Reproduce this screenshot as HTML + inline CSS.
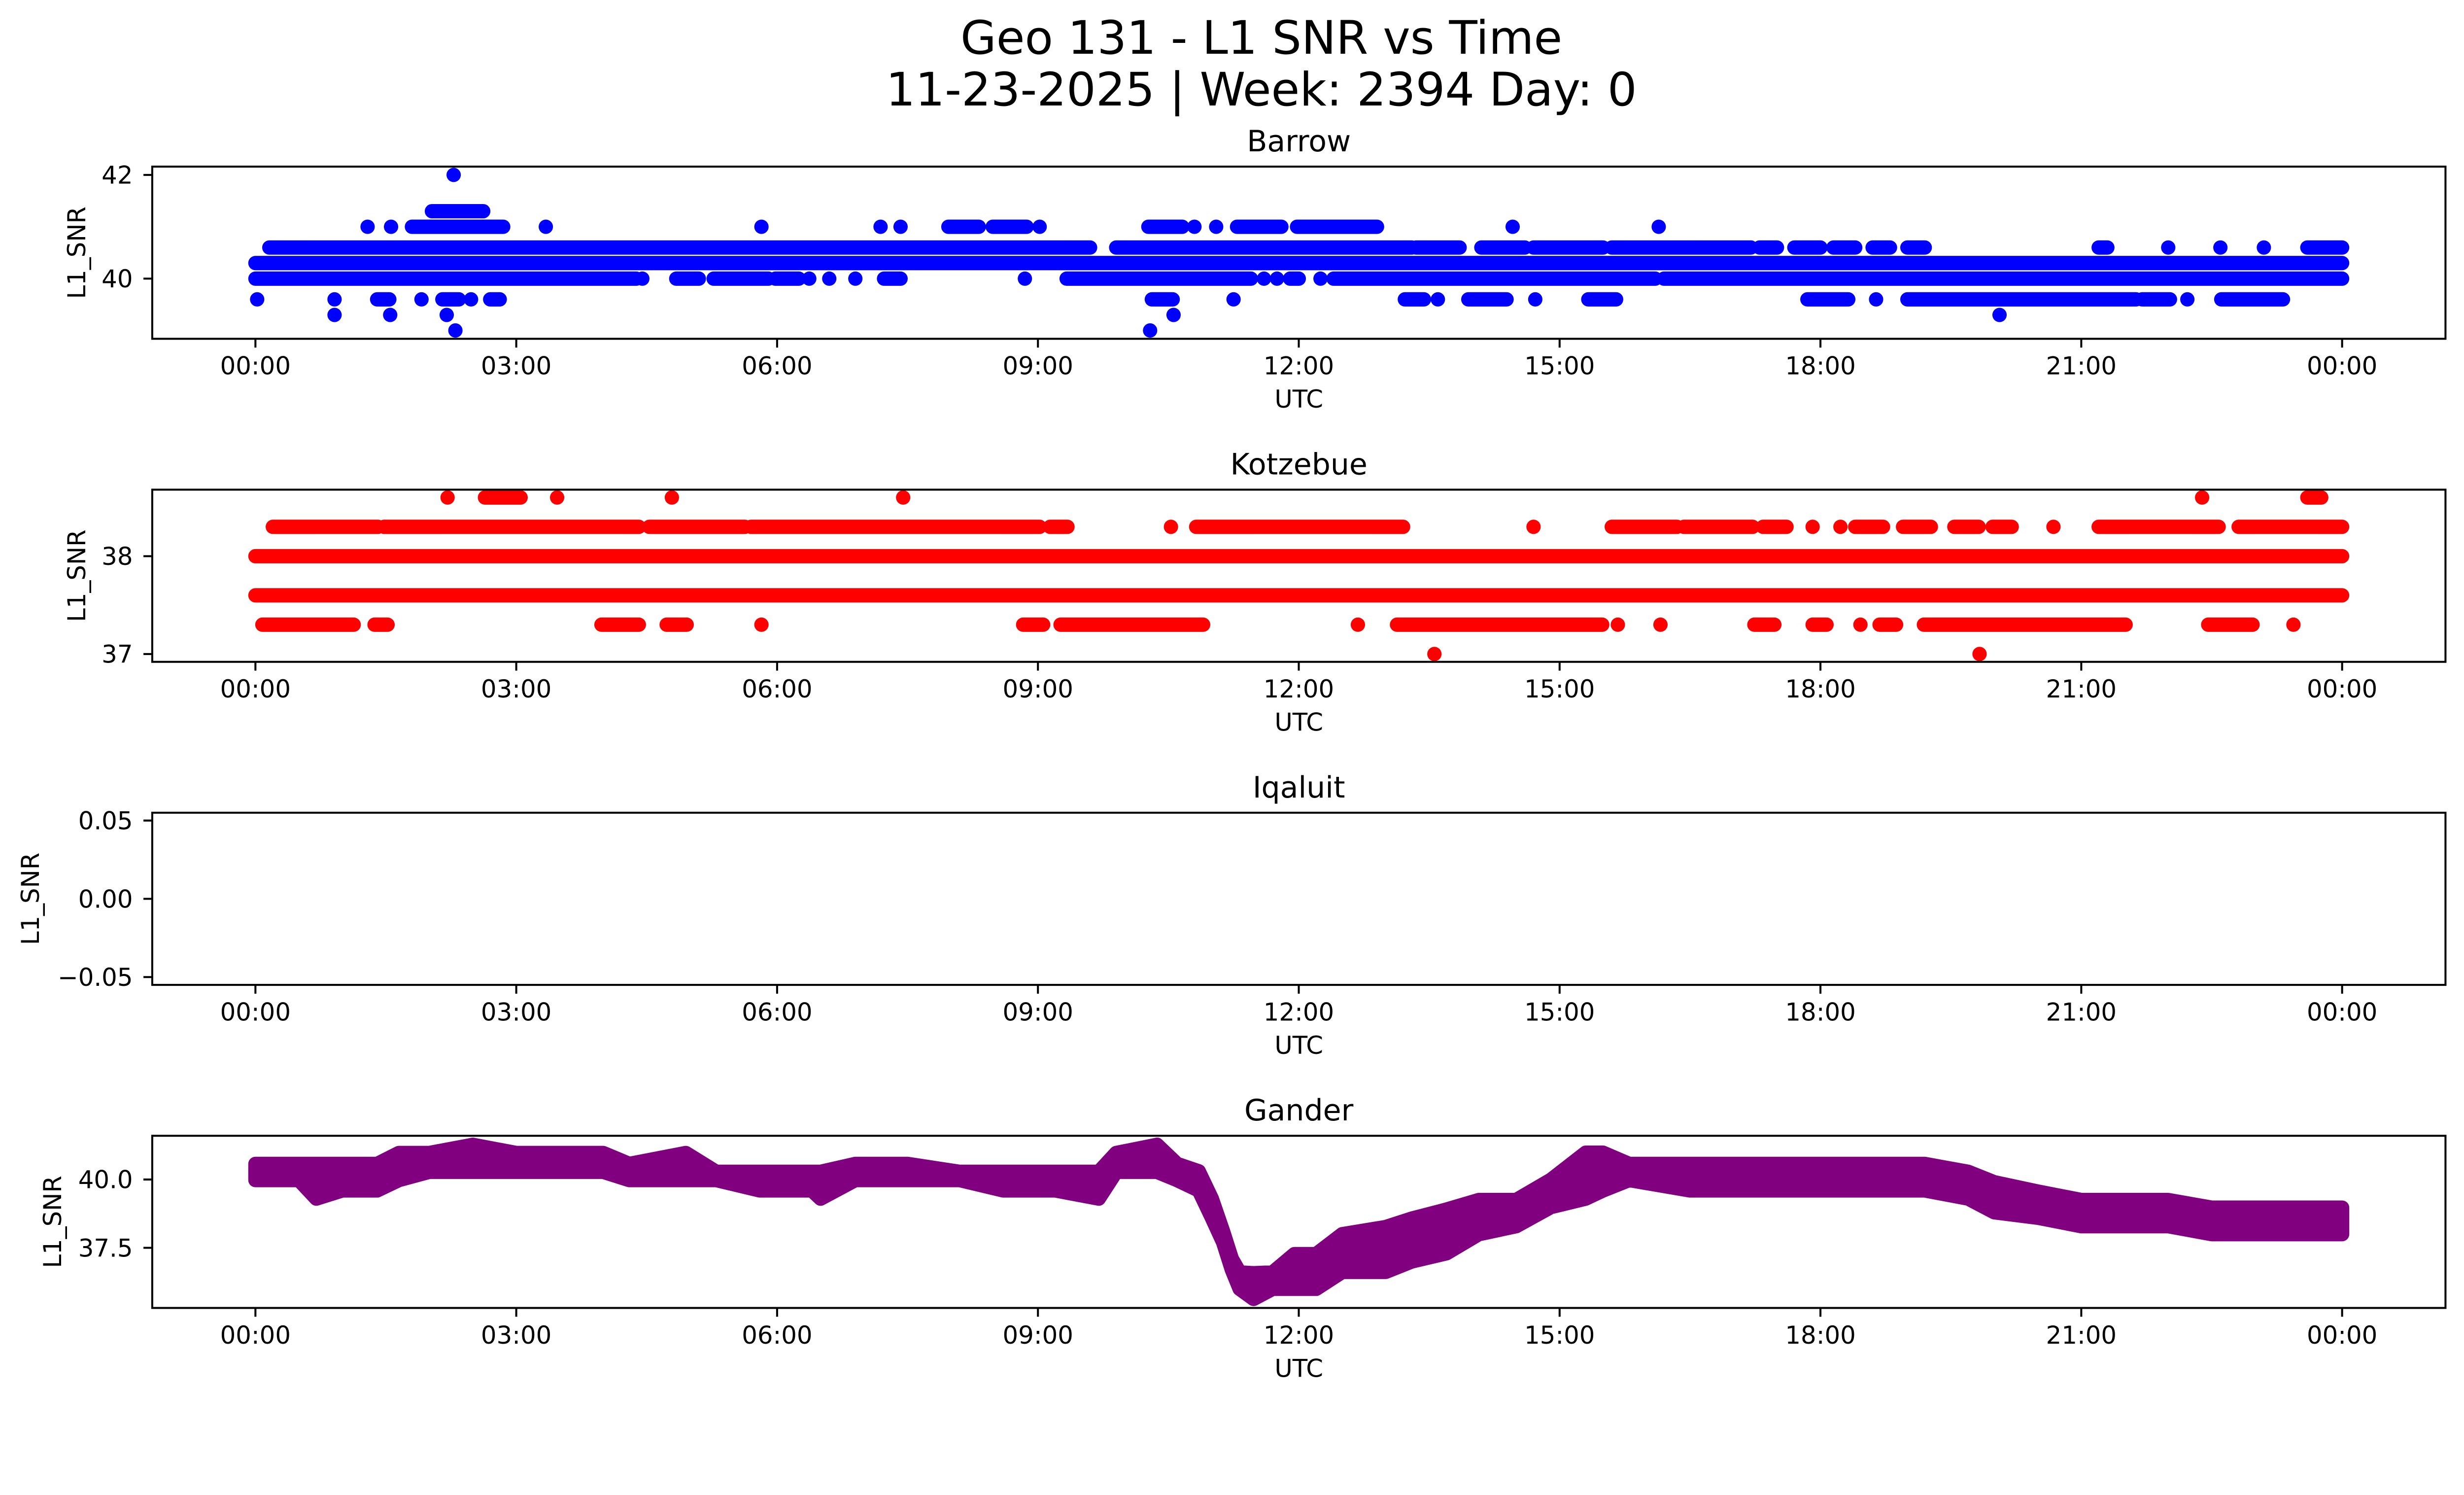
<!DOCTYPE html>
<html><head><meta charset="utf-8"><style>
html,body{margin:0;padding:0;background:#fff;overflow:hidden;}
svg{display:block;width:100vw;height:calc(100vw * 3033 / 5325);}
text{font-family:"DejaVu Sans","Liberation Sans",sans-serif;fill:#000;}
</style></head>
<body>
<svg id="fig" viewBox="0 0 5325 3033" xmlns="http://www.w3.org/2000/svg">
<rect x="0" y="0" width="5325" height="3033" fill="#fff"/>
<text x="2726" y="116" font-size="100" text-anchor="middle">Geo 131 - L1 SNR vs Time</text>
<text x="2726" y="228" font-size="100" text-anchor="middle">11-23-2025 | Week: 2394 Day: 0</text>
</svg>
<script>
// x-axis ticks (hours) and labels
const xTickHours = [0,3,6,9,12,15,18,21,24];
const xTickLabels = ["00:00","03:00","06:00","09:00","12:00","15:00","18:00","21:00","00:00"];

// Barrow runs: [level, startHour, endHour]
const barrowRuns = [
 [40.3,0,24],
 [40.0,0,4.38],[40.0,4.45,4.45],[40.0,4.84,5.1],[40.0,5.27,5.9],[40.0,5.98,6.25],[40.0,6.37,6.37],[40.0,6.6,6.6],[40.0,6.9,6.9],[40.0,7.23,7.42],[40.0,8.85,8.85],[40.0,9.33,11.45],[40.0,11.6,11.6],[40.0,11.75,11.75],[40.0,11.9,12.0],[40.0,12.25,12.25],[40.0,12.4,16.1],[40.0,16.2,24],
 [40.6,0.16,9.6],[40.6,9.9,13.3],[40.6,13.35,13.85],[40.6,14.1,14.6],[40.6,14.7,15.5],[40.6,15.6,17.2],[40.6,17.3,17.5],[40.6,17.7,18.0],[40.6,18.15,18.4],[40.6,18.6,18.8],[40.6,19.0,19.2],[40.6,21.2,21.3],[40.6,22.0,22.0],[40.6,22.6,22.6],[40.6,23.1,23.1],[40.6,23.6,24.0],
 [41.0,1.29,1.29],[41.0,1.56,1.56],[41.0,1.8,2.85],[41.0,3.34,3.34],[41.0,5.82,5.82],[41.0,7.19,7.19],[41.0,7.42,7.42],[41.0,7.97,8.32],[41.0,8.48,8.87],[41.0,9.02,9.02],[41.0,10.27,10.66],[41.0,10.8,10.8],[41.0,11.05,11.05],[41.0,11.29,11.8],[41.0,11.98,12.9],[41.0,14.46,14.46],[41.0,16.14,16.14],
 [41.3,2.03,2.62],[42.0,2.28,2.28],
 [39.6,0.02,0.02],[39.6,0.91,0.91],[39.6,1.4,1.54],[39.6,1.91,1.91],[39.6,2.15,2.34],[39.6,2.48,2.48],[39.6,2.7,2.81],[39.6,10.31,10.55],[39.6,11.25,11.25],[39.6,13.22,13.44],[39.6,13.6,13.6],[39.6,13.95,14.39],[39.6,14.72,14.72],[39.6,15.33,15.65],[39.6,17.85,18.32],[39.6,18.64,18.64],[39.6,19.0,21.63],[39.6,21.7,22.02],[39.6,22.22,22.22],[39.6,22.61,23.32],
 [39.3,0.91,0.91],[39.3,1.55,1.55],[39.3,2.2,2.2],[39.3,10.56,10.56],[39.3,20.06,20.06],
 [39.0,2.3,2.3],[39.0,10.29,10.29]
];

// Kotzebue runs: [level, startHour, endHour]
const kotzebueRuns = [
 [38.0,0,24],[37.6,0,24],
 [38.6,2.21,2.21],[38.6,2.64,3.05],[38.6,3.47,3.47],[38.6,4.79,4.79],[38.6,7.45,7.45],[38.6,22.39,22.39],[38.6,23.6,23.76],
 [38.3,0.2,1.41],[38.3,1.48,4.41],[38.3,4.53,5.63],[38.3,5.7,9.02],[38.3,9.14,9.34],[38.3,10.53,10.53],[38.3,10.82,13.2],[38.3,14.7,14.7],[38.3,15.6,16.35],[38.3,16.43,17.22],[38.3,17.34,17.61],[38.3,17.91,17.91],[38.3,18.23,18.23],[38.3,18.4,18.72],[38.3,18.95,19.27],[38.3,19.54,19.82],[38.3,19.98,20.2],[38.3,20.68,20.68],[38.3,21.2,22.58],[38.3,22.81,24.0],
 [37.3,0.08,1.13],[37.3,1.37,1.52],[37.3,3.98,4.41],[37.3,4.73,4.96],[37.3,5.82,5.82],[37.3,8.83,9.06],[37.3,9.26,10.9],[37.3,12.68,12.68],[37.3,13.13,15.49],[37.3,15.67,15.67],[37.3,16.16,16.16],[37.3,17.24,17.47],[37.3,17.91,18.07],[37.3,18.46,18.46],[37.3,18.68,18.87],[37.3,19.19,21.51],[37.3,22.46,22.97],[37.3,23.44,23.44],
 [37.0,13.56,13.56],[37.0,19.83,19.83]
];

// Gander envelope
const ganderT  = [0,0.5,0.7,1.0,1.4,1.65,2.0,2.5,3.0,3.5,4.0,4.3,4.95,5.3,5.8,6.4,6.5,6.9,7.5,8.1,8.6,9.2,9.7,9.9,10.37,10.6,10.85,11.0,11.13,11.23,11.32,11.48,11.7,11.95,12.2,12.5,13.0,13.3,13.7,14.07,14.5,14.9,15.3,15.5,15.8,16.5,17.5,18.5,19.2,19.7,20.0,20.5,21.0,22.0,22.5,23.0,23.5,24.0];
const ganderHi = [40.57,40.57,40.57,40.57,40.57,40.97,40.97,41.27,40.97,40.97,40.97,40.57,40.97,40.28,40.28,40.28,40.28,40.57,40.57,40.28,40.28,40.28,40.28,40.97,41.27,40.57,40.3,39.3,38.1,37.1,36.6,36.57,36.6,37.27,37.27,38.0,38.26,38.57,38.9,39.25,39.25,39.99,40.98,40.98,40.57,40.57,40.57,40.57,40.57,40.28,39.9,39.56,39.25,39.25,38.97,38.97,38.97,38.97];
const ganderLo = [39.98,39.98,39.3,39.6,39.6,39.98,40.28,40.28,40.28,40.28,40.28,39.98,39.98,39.98,39.6,39.6,39.3,39.98,39.98,39.98,39.6,39.6,39.3,40.28,40.28,39.98,39.6,38.6,37.7,36.7,36.0,35.63,36.0,36.0,36.0,36.62,36.62,37.0,37.3,38.0,38.29,38.99,39.3,39.6,39.98,39.6,39.6,39.6,39.6,39.3,38.8,38.6,38.29,38.29,38.0,38.0,38.0,38.0];

const NS = "http://www.w3.org/2000/svg";
const svg = document.getElementById('fig');
const L = 329, R = 5285, H = 372, X0 = 552, X24 = 5061.6;
const panels = [
 {name:'barrow', title:'Barrow', top:360, ymin:38.84, ymax:42.16, ticks:[40,42], labels:['40','42'], ylx:166, color:'#0000ff'},
 {name:'kotzebue', title:'Kotzebue', top:1058, ymin:36.92, ymax:38.68, ticks:[37,38], labels:['37','38'], ylx:166, color:'#ff0000'},
 {name:'iqaluit', title:'Iqaluit', top:1756, ymin:-0.055, ymax:0.055, ticks:[-0.05,0,0.05], labels:['\u22120.05','0.00','0.05'], ylx:66, color:'#000'},
 {name:'gander', title:'Gander', top:2454, ymin:35.3, ymax:41.6, ticks:[37.5,40], labels:['37.5','40.0'], ylx:114, color:'#800080'}
];
function xs(h){ return X0 + (X24 - X0) * h / 24; }
function mk(tag, attrs){ const e = document.createElementNS(NS, tag); for (const k in attrs) e.setAttribute(k, attrs[k]); return e; }

panels.forEach((p, i) => {
  const g = mk('g', {});
  
  
  svg.appendChild(g);
  const ys = v => p.top + H * (p.ymax - v) / (p.ymax - p.ymin);
  const cp = mk('clipPath', {id:'clip' + i});
  cp.appendChild(mk('rect', {x:L, y:p.top, width:R - L, height:H}));
  g.appendChild(cp);
  const data = mk('g', {'clip-path':'url(#clip' + i + ')'});
  
  
  g.appendChild(data);
  const runs = p.name === 'barrow' ? barrowRuns : (p.name === 'kotzebue' ? kotzebueRuns : null);
  if (runs) {
    runs.forEach(r => {
      const ln = mk('line', {x1:xs(r[1]), x2:xs(r[2]), y1:ys(r[0]), y2:ys(r[0]), stroke:p.color, 'stroke-width':31, 'stroke-linecap':'round'});
      
      
      data.appendChild(ln);
    });
  }
  if (p.name === 'gander') {
    let pts = [];
    for (let k = 0; k < ganderT.length; k++) pts.push(xs(ganderT[k]).toFixed(1) + ',' + ys(ganderHi[k]).toFixed(1));
    for (let k = ganderT.length - 1; k >= 0; k--) pts.push(xs(ganderT[k]).toFixed(1) + ',' + ys(ganderLo[k]).toFixed(1));
    const poly = mk('polygon', {points:pts.join(' '), fill:p.color, stroke:p.color, 'stroke-width':31, 'stroke-linejoin':'round'});
    
    
    data.appendChild(poly);
  }
  const fr = mk('rect', {x:L, y:p.top, width:R - L, height:H, fill:'none', stroke:'#000', 'stroke-width':4.3});
  
  
  g.appendChild(fr);
  const t = mk('text', {x:(L + R) / 2, y:p.top - 33, 'font-size':64, 'text-anchor':'middle'});
  t.textContent = p.title;
  
  
  g.appendChild(t);
  p.ticks.forEach((v, j) => {
    const y = ys(v);
    g.appendChild(mk('line', {x1:L - 19, x2:L, y1:y, y2:y, stroke:'#000', 'stroke-width':4.3}));
    const tl = mk('text', {x:287, y:y + 19, 'font-size':53, 'text-anchor':'end'});
    tl.textContent = p.labels[j];
    
    
    g.appendChild(tl);
  });
  const bottom = p.top + H;
  xTickHours.forEach((h, j) => {
    const x = xs(h);
    g.appendChild(mk('line', {x1:x, x2:x, y1:bottom, y2:bottom + 19, stroke:'#000', 'stroke-width':4.3}));
    const tl = mk('text', {x:x, y:bottom + 77, 'font-size':53, 'text-anchor':'middle'});
    tl.textContent = xTickLabels[j];
    
    
    g.appendChild(tl);
  });
  const xl = mk('text', {x:(L + R) / 2, y:bottom + 149, 'font-size':53, 'text-anchor':'middle'});
  xl.textContent = 'UTC';
  
  
  g.appendChild(xl);
  const cy = p.top + H / 2;
  const yl = mk('text', {x:p.ylx, y:cy, 'font-size':53, 'text-anchor':'middle', 'dominant-baseline':'central', transform:'rotate(-90 ' + p.ylx + ' ' + cy + ')'});
  yl.textContent = 'L1_SNR';
  
  
  g.appendChild(yl);
});
</script>
</body></html>
